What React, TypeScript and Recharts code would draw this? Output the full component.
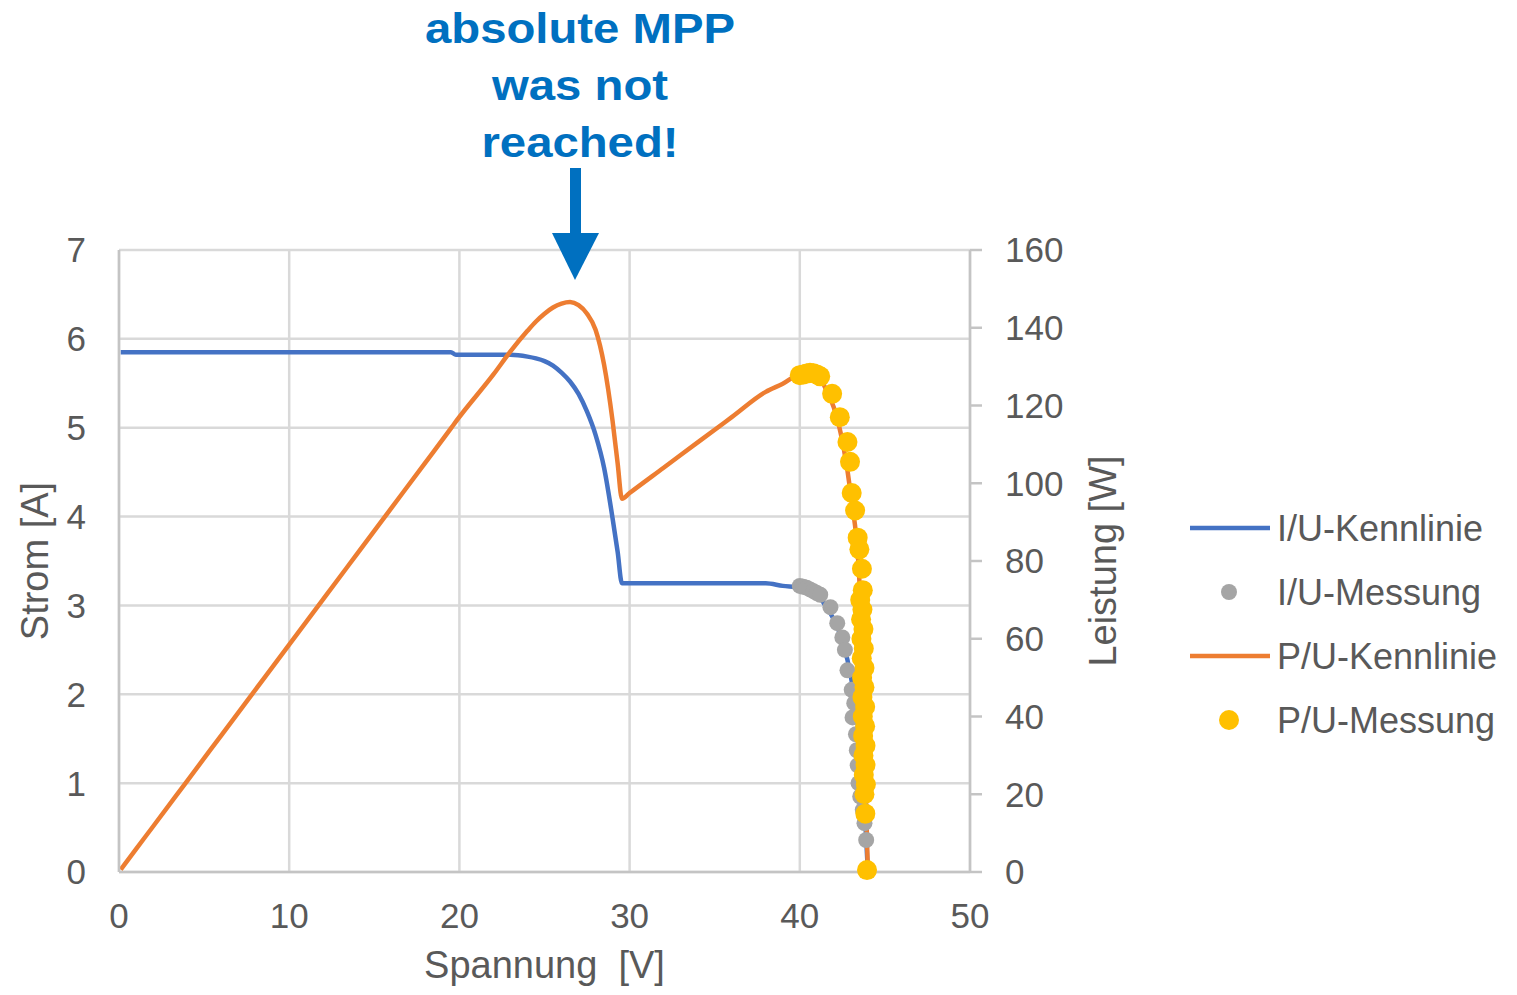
import {
  ComposedChart,
  Line,
  Scatter,
  XAxis,
  YAxis,
  CartesianGrid,
  Legend,
} from 'recharts'

// Kennlinien (I/U and P/U characteristic curves)
const kennU = [
  0.1, 1, 2, 4, 6, 8, 10, 12, 14, 16, 18, 19.5, 19.8, 22, 23, 24, 24.5, 25, 25.5, 26,
  26.5, 27, 27.5, 28, 28.5, 29, 29.3, 29.55, 30, 32, 34, 36, 38, 39, 40, 41, 41.5, 42,
  42.5, 43, 43.5, 43.8, 44,
]
const kennI = [
  5.85, 5.85, 5.85, 5.85, 5.85, 5.85, 5.85, 5.85, 5.85, 5.85, 5.85, 5.85, 5.82, 5.82,
  5.82, 5.8, 5.78, 5.75, 5.7, 5.62, 5.52, 5.38, 5.18, 4.92, 4.55, 3.98, 3.6, 3.25, 3.25,
  3.25, 3.25, 3.25, 3.25, 3.22, 3.2, 3.13, 3.0, 2.84, 2.6, 2.2, 1.5, 0.75, 0,
]
const kennP = [
  0.6, 5.9, 11.7, 23.4, 35.1, 46.8, 58.5, 70.2, 81.9, 93.6, 105.3, 114.1, 115.9, 128.0,
  133.9, 139.2, 141.6, 143.6, 145.2, 146.2, 146.6, 145.8, 143.6, 139.5, 130.5, 116.0,
  105.0, 96.0, 97.5, 104.0, 110.5, 117.0, 123.5, 125.6, 128.0, 128.3, 124.5, 119.5,
  111.0, 97.0, 75.0, 33.0, 0,
]

// Messpunkte I/U
const iuMessU = [
  40.0, 40.2, 40.4, 40.6, 40.8, 41.0, 41.2, 41.8, 42.2, 42.5, 42.65, 42.8, 43.05, 43.1,
  43.2, 43.3, 43.35, 43.4, 43.45, 43.55, 43.7, 43.8, 43.9, 43.95,
]
const iuMessI = [
  3.22, 3.21, 3.2, 3.18, 3.16, 3.14, 3.12, 2.98, 2.8, 2.64, 2.5, 2.27, 2.05, 1.74, 1.9,
  1.55, 1.37, 1.2, 1.0, 0.85, 0.7, 0.55, 0.36, 0.02,
]

// Messpunkte P/U
const puMessU = [
  40.0, 40.2, 40.4, 40.6, 40.8, 41.0, 41.2, 41.9, 42.35, 42.8, 42.95, 43.05, 43.25, 43.4,
  43.5, 43.65, 43.7, 43.55, 43.68, 43.6, 43.74, 43.62, 43.76, 43.64, 43.8, 43.66, 43.8,
  43.68, 43.84, 43.7, 43.84, 43.72, 43.86, 43.74, 43.86, 43.76, 43.88, 43.8, 43.85, 43.95,
]
const puMessP = [
  127.8, 128.0, 128.2, 128.4, 128.3, 128.0, 127.5, 123.0, 117.0, 110.6, 105.5, 97.5, 93.0,
  86.0, 83.0, 78.0, 72.5, 70, 67.5, 65, 62.5, 60, 57.5, 55, 52.5, 50, 47.5, 45, 42.5, 40,
  37.5, 35, 32.5, 30, 27.5, 25, 22.5, 20, 15, 0.5,
]

const xTicks = [0, 10, 20, 30, 40, 50]
const iTicks = [0, 1, 2, 3, 4, 5, 6, 7]
const pTicks = [0, 20, 40, 60, 80, 100, 120, 140, 160]

const kennData = kennU.map((u, k) => ({ u, i: kennI[k], p: kennP[k] }))
const iuMessData = iuMessU.map((u, k) => ({ u, i: iuMessI[k] }))
const puMessData = puMessU.map((u, k) => ({ u, p: puMessP[k] }))

const FONT = '"Liberation Sans", Arial, sans-serif'
const TEXT = '#595959'
const GRID = '#d9d9d9'
const AXIS = '#c4c4c4'
const DOT_R: Record<string, number> = { i: 8, p: 10 }

const tickStyle = { fontSize: 35, fill: TEXT, fontFamily: FONT }

function VerticalTitle({ x, y, text }: { x: number; y: number; text: string }) {
  return (
    <text
      x={x}
      y={y}
      transform={`rotate(-90 ${x} ${y})`}
      textAnchor="middle"
      dominantBaseline="central"
      fontSize={38}
      fill={TEXT}
      fontFamily={FONT}
    >
      {text}
    </text>
  )
}

function renderLegend(props: any) {
  const payload = props.payload || []
  return (
    <svg width={330} height={250} style={{ overflow: 'visible' }}>
      {payload.map((entry: any, k: number) => {
        const cy = 28 + k * 64
        return (
          <g key={entry.value}>
            {entry.type === 'line' ? (
              <line x1={5} x2={85} y1={cy} y2={cy} stroke={entry.color} strokeWidth={4.5} />
            ) : (
              <circle cx={44} cy={cy} r={DOT_R[entry.dataKey] ?? 9} fill={entry.color} />
            )}
            <text
              x={92}
              y={cy}
              dominantBaseline="central"
              fontSize={36}
              fill={TEXT}
              fontFamily={FONT}
            >
              {entry.value}
            </text>
          </g>
        )
      })}
    </svg>
  )
}

export default function App() {
  return (
    <div style={{ position: 'absolute', left: 0, top: 0, width: 1517, height: 995, background: '#fff', fontFamily: FONT }}>
      <ComposedChart
        width={1517}
        height={995}
        margin={{ top: 250, right: 447, left: 59, bottom: 63 }}
      >
        <CartesianGrid yAxisId="I" stroke={GRID} strokeWidth={2.5} />
        <XAxis
          dataKey="u"
          type="number"
          domain={[0, 50]}
          ticks={xTicks}
          height={60}
          tickLine={false}
          tickSize={0}
          tickMargin={31}
          tick={tickStyle}
          axisLine={{ stroke: AXIS, strokeWidth: 2.5 }}
          label={{
            content: (p: any) => (
              <text
                x={p.viewBox.x + p.viewBox.width / 2}
                y={p.viewBox.y + 106}
                textAnchor="middle"
                fontSize={38}
                fill={TEXT}
                fontFamily={FONT}
                style={{ whiteSpace: 'pre' }}
              >
                {'Spannung  [V]'}
              </text>
            ),
          }}
        />
        <YAxis
          yAxisId="I"
          orientation="left"
          type="number"
          domain={[0, 7]}
          ticks={iTicks}
          width={60}
          tickLine={false}
          tickSize={0}
          tickMargin={33}
          tick={tickStyle}
          axisLine={{ stroke: AXIS, strokeWidth: 2.5 }}
          label={{
            content: (p: any) => (
              <VerticalTitle
                x={p.viewBox.x + p.viewBox.width - 84}
                y={p.viewBox.y + p.viewBox.height / 2}
                text="Strom [A]"
              />
            ),
          }}
        />
        <YAxis
          yAxisId="P"
          orientation="right"
          type="number"
          domain={[0, 160]}
          ticks={pTicks}
          width={100}
          tickSize={12}
          tickMargin={23}
          tick={tickStyle}
          tickLine={{ stroke: AXIS, strokeWidth: 2.5 }}
          axisLine={{ stroke: AXIS, strokeWidth: 2.5 }}
          label={{
            content: (p: any) => (
              <VerticalTitle
                x={p.viewBox.x + 133}
                y={p.viewBox.y + p.viewBox.height / 2}
                text="Leistung [W]"
              />
            ),
          }}
        />
        <Legend
          layout="vertical"
          align="center"
          verticalAlign="middle"
          content={renderLegend}
          wrapperStyle={{ left: 1185, top: 500, width: 330, height: 250 }}
        />
        <Line
          yAxisId="I"
          data={kennData}
          dataKey="i"
          name="I/U-Kennlinie"
          type="monotone"
          stroke="#4472c4"
          strokeWidth={4.5}
          dot={false}
          activeDot={false}
          isAnimationActive={false}
        />
        <Scatter
          yAxisId="I"
          data={iuMessData}
          dataKey="i"
          name="I/U-Messung"
          fill="#a5a5a5"
          shape={(s: any) => <circle cx={s.cx} cy={s.cy} r={DOT_R.i} fill="#a5a5a5" />}
          isAnimationActive={false}
        />
        <Line
          yAxisId="P"
          data={kennData}
          dataKey="p"
          name="P/U-Kennlinie"
          type="monotone"
          stroke="#ed7d31"
          strokeWidth={4.5}
          dot={false}
          activeDot={false}
          isAnimationActive={false}
        />
        <Scatter
          yAxisId="P"
          data={puMessData}
          dataKey="p"
          name="P/U-Messung"
          fill="#ffc000"
          shape={(s: any) => <circle cx={s.cx} cy={s.cy} r={DOT_R.p} fill="#ffc000" />}
          isAnimationActive={false}
        />
      </ComposedChart>

      {/* annotation above the power peak */}
      <svg
        width={1517}
        height={300}
        style={{ position: 'absolute', left: 0, top: 0, pointerEvents: 'none' }}
      >
        <g transform="translate(580 0) scale(1.1 1)" fill="#0070c0" fontFamily={FONT} fontWeight="bold" fontSize={43}>
          <text x={0} y={43} textAnchor="middle">absolute MPP</text>
          <text x={0} y={100} textAnchor="middle">was not</text>
          <text x={0} y={157} textAnchor="middle">reached!</text>
        </g>
        <rect x={570} y={168} width={11} height={67} fill="#0070c0" />
        <polygon points="552,233 599,233 575,280" fill="#0070c0" />
      </svg>
    </div>
  )
}
